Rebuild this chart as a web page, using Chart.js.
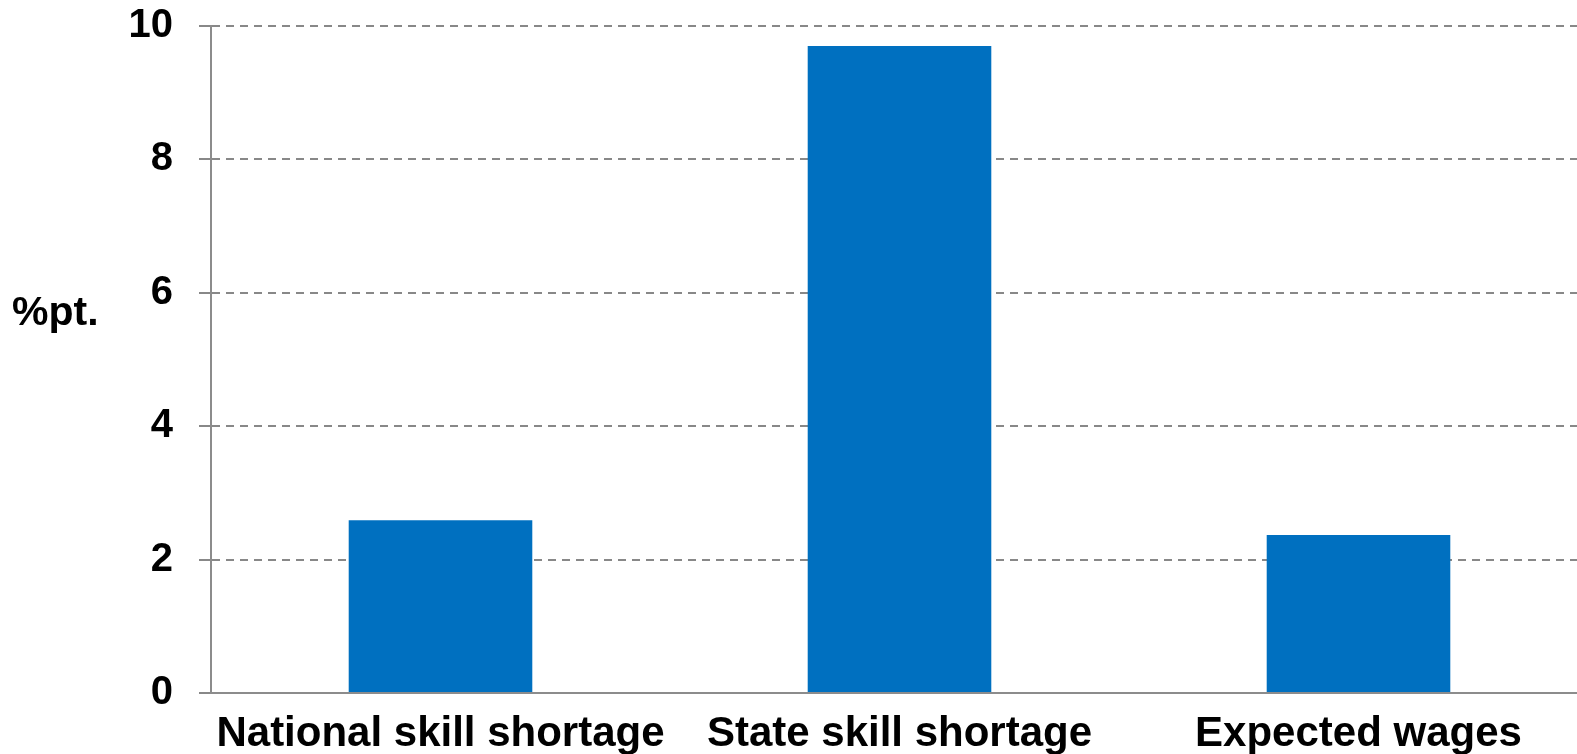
<!DOCTYPE html>
<html>
<head>
<meta charset="utf-8">
<script src="https://cdn.jsdelivr.net/npm/chart.js@4.4.0/dist/chart.umd.min.js"></script>
<style>
  html, body { margin: 0; padding: 0; background: #fff; overflow: hidden; }
  #wrap { position: relative; width: 1590px; height: 754px; }
</style>
</head>
<body>
<div id="wrap"><canvas id="c"></canvas></div>
<script>
const categories = ["National skill shortage", "State skill shortage", "Expected wages"];
const values = [2.59, 9.70, 2.37];
const yTicks = [0, 2, 4, 6, 8, 10];
const yAxisLabel = "%pt.";

const FONT = "'Liberation Sans', Arial, sans-serif";

const unitLabel = {
  id: 'unitLabel',
  afterDraw(chart) {
    const ctx = chart.ctx;
    ctx.save();
    ctx.font = "bold 41px " + FONT;
    ctx.fillStyle = "#000";
    ctx.textAlign = "left";
    ctx.textBaseline = "alphabetic";
    ctx.fillText(yAxisLabel, 12, 325);
    ctx.restore();
  }
};

new Chart(document.getElementById('c'), {
  type: 'bar',
  data: {
    labels: categories,
    datasets: [{
      data: values,
      backgroundColor: '#0070C0',
      borderWidth: 0,
      barPercentage: 0.4,
      categoryPercentage: 1.0
    }]
  },
  options: {
    responsive: true,
    maintainAspectRatio: false,
    animation: false,
    layout: { padding: { top: 26, right: 2, left: 0, bottom: 0 } },
    plugins: { legend: { display: false }, tooltip: { enabled: false } },
    scales: {
      x: {
        grid: { display: false, drawTicks: false },
        border: { display: true, color: '#8c8c8c', width: 2 },
        ticks: {
          color: '#000',
          font: { family: FONT, size: 42, weight: 'bold' },
          padding: 16,
          maxRotation: 0,
          autoSkip: false
        },
        afterFit(scale) { scale.height = 61; }
      },
      y: {
        min: 0,
        max: 10,
        afterBuildTicks(scale) { scale.ticks = yTicks.map(v => ({ value: v })); },
        grid: {
          color: '#888888',
          lineWidth: 2,
          drawTicks: true,
          tickLength: 12,
          tickColor: '#888888',
          tickWidth: 2,
          tickBorderDash: []
        },
        border: { display: true, color: '#8c8c8c', width: 2, dash: [8, 6] },
        ticks: {
          color: '#000',
          font: { family: FONT, size: 40, weight: 'bold' },
          padding: 26
        },
        afterFit(scale) {
          scale.width = 211;
          scale.paddingTop = 0;
          scale.paddingBottom = 0;
        }
      }
    }
  },
  plugins: [unitLabel]
});
</script>
</body>
</html>
